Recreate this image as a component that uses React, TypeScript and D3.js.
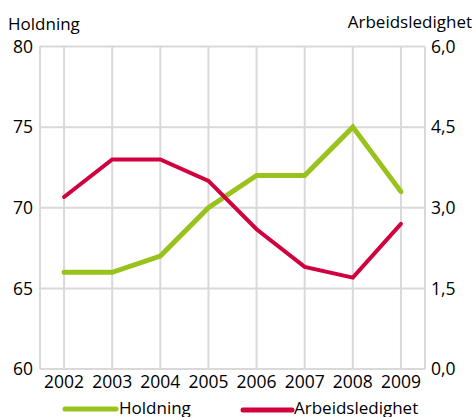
import React from "react";
import * as d3 from "d3";

const years = ["2002", "2003", "2004", "2005", "2006", "2007", "2008", "2009"];
const holdning = [66, 66, 67, 70, 72, 72, 75, 71];
const arbeidsledighet = [3.2, 3.9, 3.9, 3.5, 2.6, 1.9, 1.7, 2.7];
const leftTicks = [60, 65, 70, 75, 80];
const rightTicks = [0, 1.5, 3, 4.5, 6];

const W = 476;
const H = 417;
const left = 40;
const right = 425;
const top = 46.5;
const bottom = 369;

const GREEN = "#99c31c";
const RED = "#d1003f";
const GRID = "#d9d9d9";
const FONT = "'Open Sans', sans-serif";

export default function App() {
  const x = d3.scalePoint<string>().domain(years).range([left, right]).padding(0.5);
  const yL = d3.scaleLinear().domain([60, 80]).range([bottom, top]);
  const yR = d3.scaleLinear().domain([0, 6]).range([bottom, top]);

  const lineL = d3
    .line<number>()
    .x((_, i) => x(years[i]) as number)
    .y((d) => yL(d));
  const lineR = d3
    .line<number>()
    .x((_, i) => x(years[i]) as number)
    .y((d) => yR(d));

  const fmtR = (v: number) => v.toFixed(1).replace(".", ",");

  return (
    <svg
      width={W}
      height={H}
      style={{ position: "absolute", left: 0, top: 0, background: "#fff" }}
      fontFamily={FONT}
    >
      {/* grid */}
      {leftTicks.map((t) => (
        <line key={"h" + t} x1={left} x2={right} y1={yL(t)} y2={yL(t)} stroke={GRID} strokeWidth={2} />
      ))}
      <line x1={left} x2={left} y1={top} y2={bottom} stroke={GRID} strokeWidth={2} />
      <line x1={right} x2={right} y1={top} y2={bottom} stroke={GRID} strokeWidth={2} />
      {years.map((yr) => (
        <line key={"v" + yr} x1={x(yr)} x2={x(yr)} y1={top} y2={bottom} stroke={GRID} strokeWidth={2} />
      ))}

      {/* lines */}
      <path d={lineL(holdning) || ""} fill="none" stroke={GREEN} strokeWidth={5} strokeLinecap="round" />
      <path d={lineR(arbeidsledighet) || ""} fill="none" stroke={RED} strokeWidth={4} strokeLinecap="round" />

      {/* left ticks */}
      {leftTicks.map((t) => (
        <text key={"lt" + t} x={33} y={yL(t)} dy="0.35em" textAnchor="end" fontSize={17.5} fill="#000">
          {t}
        </text>
      ))}
      {/* right ticks */}
      {rightTicks.map((t) => (
        <text key={"rt" + t} x={431} y={yR(t)} dy="0.35em" textAnchor="start" fontSize={17.5} fill="#000">
          {fmtR(t)}
        </text>
      ))}
      {/* x labels */}
      {years.map((yr) => (
        <text key={"xl" + yr} x={x(yr)} y={388} textAnchor="middle" fontSize={17.5} fill="#000">
          {yr}
        </text>
      ))}

      {/* axis titles */}
      <text x={8} y={30} fontSize={17} fill="#000">Holdning</text>
      <text x={472} y={28} fontSize={17} textAnchor="end" fill="#000">Arbeidsledighet</text>

      {/* legend */}
      <line x1={65} x2={116} y1={409} y2={409} stroke={GREEN} strokeWidth={5} strokeLinecap="round" />
      <text x={119} y={414} fontSize={17} fill="#000">Holdning</text>
      <line x1={243} x2={292} y1={410} y2={410} stroke={RED} strokeWidth={5} strokeLinecap="round" />
      <text x={294} y={414} fontSize={17} fill="#000">Arbeidsledighet</text>
    </svg>
  );
}
